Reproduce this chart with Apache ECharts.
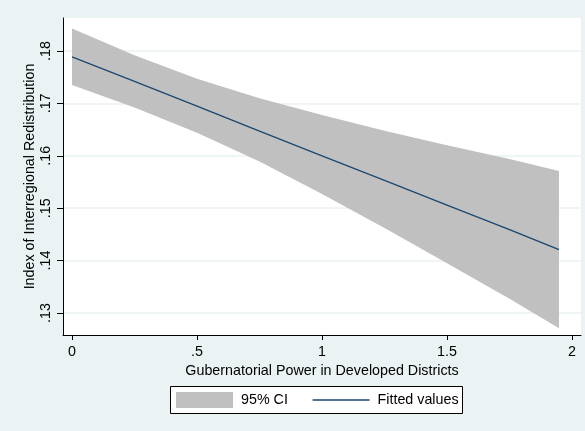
<!DOCTYPE html>
<html>
<head>
<meta charset="utf-8">
<script src="https://cdn.jsdelivr.net/npm/echarts@6/dist/echarts.min.js"></script>
<style>
html,body{margin:0;padding:0;background:#EAF2F3;}
#chart{width:585px;height:431px;}
</style>
</head>
<body>
<div id="chart"></div>
<script>
// Data
const xValues   = [0, 0.25, 0.5, 0.75, 1, 1.25, 1.5, 1.75, 1.948];
const fitted    = [0.1789, 0.1742, 0.1695, 0.1647, 0.1600, 0.1553, 0.1506, 0.1459, 0.1421];
const ciUpper   = [0.1843, 0.1792, 0.1747, 0.1710, 0.1678, 0.1648, 0.1620, 0.1594, 0.1571];
const ciLower   = [0.1735, 0.1692, 0.1644, 0.1589, 0.1527, 0.1462, 0.1395, 0.1327, 0.1271];
const xTicks    = [0, 0.5, 1, 1.5, 2];
const yTicks    = [0.13, 0.14, 0.15, 0.16, 0.17, 0.18];
const xTitle    = 'Gubernatorial Power in Developed Districts';
const yTitle    = 'Index of Interregional Redistribution';
const legendNames = ['95% CI', 'Fitted values'];

const FONT = '"Liberation Sans", Arial, Helvetica, sans-serif';
const FS = 14.3;

const bandData = xValues.map((x, i) => [x, ciLower[i], ciUpper[i]]);
const fitData  = xValues.map((x, i) => [x, fitted[i]]);

const stataFmt = v => {
  let s = (Math.round(v * 1000) / 1000).toString();
  return s.replace(/^0\./, '.');
};

const chart = echarts.init(document.getElementById('chart'), null, {renderer: 'canvas'});
chart.setOption({
  backgroundColor: '#EAF2F3',
  animation: false,
  textStyle: {fontFamily: FONT},
  grid: {
    left: 63, top: 18, right: 4, bottom: 96,
    show: true, backgroundColor: '#FFFFFF', borderWidth: 0
  },
  xAxis: {
    type: 'value',
    min: -0.036, max: 2.036,
    name: xTitle,
    nameLocation: 'middle',
    nameGap: 29,
    nameTextStyle: {color: '#000', fontSize: FS, fontFamily: FONT},
    axisLine: {show: true, onZero: false, lineStyle: {color: '#000', width: 1}},
    axisTick: {show: true, length: 5, customValues: xTicks, lineStyle: {color: '#000'}},
    axisLabel: {customValues: xTicks, color: '#000', fontSize: FS, fontFamily: FONT, margin: 10, formatter: stataFmt},
    splitLine: {show: false}
  },
  yAxis: {
    type: 'value',
    min: 0.1258, max: 0.1863,
    name: yTitle,
    nameLocation: 'middle',
    nameGap: 26,
    nameMoveOverlap: false,
    nameRotate: 90,
    nameTextStyle: {color: '#000', fontSize: FS, fontFamily: FONT},
    axisLine: {show: true, onZero: false, lineStyle: {color: '#000', width: 1}},
    axisTick: {show: true, length: 6, customValues: yTicks, lineStyle: {color: '#000'}},
    axisLabel: {customValues: yTicks, rotate: 90, color: '#000', fontSize: FS, fontFamily: FONT, margin: 10, formatter: stataFmt},
    splitLine: {show: true, customValues: yTicks, lineStyle: {color: '#EAF2F3', width: 1.5}}
  },
  legend: {
    data: [
      {name: legendNames[0], icon: 'rect', itemStyle: {color: '#C0C0C0'}},
      {name: legendNames[1], itemStyle: {opacity: 0}, lineStyle: {color: '#1A476F', width: 1.3}}
    ],
    left: 176, top: 392,
    padding: 0,
    itemWidth: 57, itemHeight: 16,
    itemGap: 24,
    z: 10,
    textStyle: {color: '#000', fontSize: FS, fontFamily: FONT, padding: [0, 0, 0, 3]}
  },
  graphic: [{
    type: 'rect',
    left: 170, top: 386, z: 1,
    shape: {width: 292, height: 27},
    style: {fill: '#FFFFFF', stroke: '#000', lineWidth: 1}
  }],
  series: [
    {
      name: legendNames[0],
      type: 'custom',
      data: [0],
      itemStyle: {color: '#C0C0C0'},
      silent: true,
      z: 2,
      renderItem: function (params, api) {
        const upper = bandData.map(d => api.coord([d[0], d[2]]));
        const lower = bandData.map(d => api.coord([d[0], d[1]])).reverse();
        return {
          type: 'polygon',
          shape: {points: upper.concat(lower)},
          style: {fill: '#C0C0C0', stroke: null}
        };
      }
    },
    {
      name: legendNames[1],
      type: 'line',
      data: fitData,
      symbol: 'none',
      lineStyle: {color: '#1A476F', width: 1.3},
      itemStyle: {color: '#1A476F'},
      z: 5
    }
  ]
});
</script>
</body>
</html>
